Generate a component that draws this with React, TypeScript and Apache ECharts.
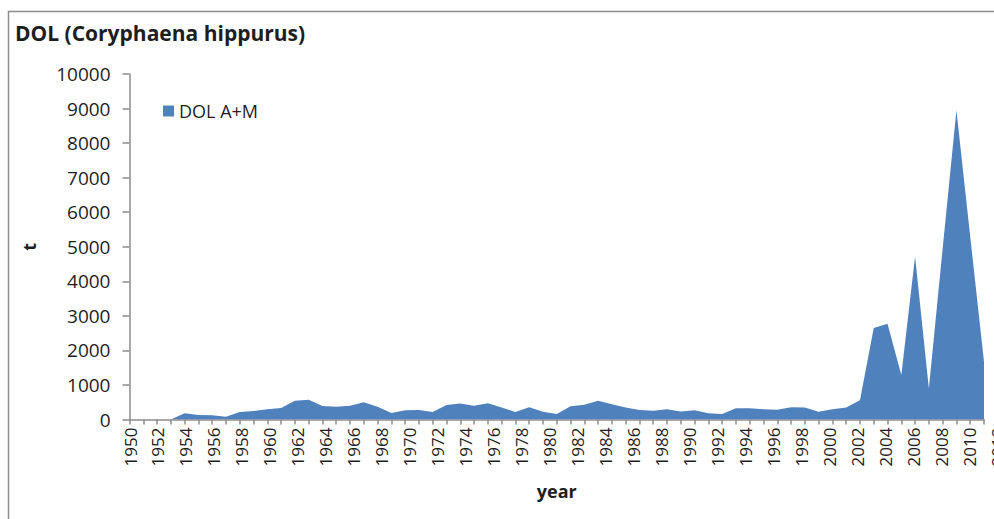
import React, { useEffect, useRef } from "react";
import * as echarts from "echarts";

const chartTitle = "DOL (Coryphaena hippurus)";
const seriesName = "DOL A+M";
const xAxisName = "year";
const yAxisName = "t";

const years = [
  "1950", "1951", "1952", "1953", "1954", "1955", "1956", "1957", "1958", "1959",
  "1960", "1961", "1962", "1963", "1964", "1965", "1966", "1967", "1968", "1969",
  "1970", "1971", "1972", "1973", "1974", "1975", "1976", "1977", "1978", "1979",
  "1980", "1981", "1982", "1983", "1984", "1985", "1986", "1987", "1988", "1989",
  "1990", "1991", "1992", "1993", "1994", "1995", "1996", "1997", "1998", "1999",
  "2000", "2001", "2002", "2003", "2004", "2005", "2006", "2007", "2008", "2009",
  "2010", "2011", "2012",
];

const catchTonnes = [
  0, 0, 0, 0, 180, 130, 120, 80, 220, 245,
  295, 330, 545, 575, 390, 370, 400, 500, 370, 190,
  265, 275, 220, 420, 460, 400, 470, 345, 220, 355,
  225, 160, 380, 430, 545, 440, 345, 275, 255, 295,
  235, 270, 180, 160, 325, 325, 295, 285, 355, 345,
  225, 295, 345, 555, 2645, 2770, 1290, 4720, 900, 4950,
  8950, 5300, 1670,
];

const yMin = 0;
const yMax = 10000;
const yInterval = 1000;

const FONT = '"Open Sans", "Noto Sans", sans-serif';
const BLUE = "#4F81BD";
const AXIS_GRAY = "#8c8c8c";
const TEXT = "#1e1e1e";

export default function App() {
  const ref = useRef<HTMLDivElement>(null);

  useEffect(() => {
    if (!ref.current) return;
    const chart = echarts.init(ref.current, null, { renderer: "svg" });
    chart.setOption({
      animation: false,
      backgroundColor: "#ffffff",
      textStyle: { fontFamily: FONT },
      graphic: [
        {
          type: "line",
          silent: true,
          shape: { x1: 8, y1: 11.5, x2: 994, y2: 11.5 },
          style: { stroke: AXIS_GRAY, lineWidth: 1.5 },
        },
        {
          type: "line",
          silent: true,
          shape: { x1: 8.5, y1: 11, x2: 8.5, y2: 519 },
          style: { stroke: AXIS_GRAY, lineWidth: 1.5 },
        },
        {
          type: "text",
          silent: true,
          x: 15,
          y: 33,
          style: {
            text: chartTitle,
            font: `bold 21px ${FONT}`,
            fill: TEXT,
            verticalAlign: "middle",
            align: "left",
          },
        },
      ],
      legend: {
        data: [seriesName],
        left: 163,
        top: 102,
        padding: 0,
        icon: "rect",
        itemWidth: 11,
        itemHeight: 11,
        textStyle: { fontSize: 18, color: TEXT, fontFamily: FONT },
      },
      grid: [
        { left: 129.5, top: 74, width: 854.5, height: 345.5, outerBoundsMode: "none" },
        { left: 130, top: 74, width: 867, height: 345.5, outerBoundsMode: "none" },
      ],
      xAxis: [
        {
          type: "category",
          gridIndex: 0,
          data: years,
          boundaryGap: false,
          axisLine: { show: true, lineStyle: { color: AXIS_GRAY, width: 1.5 } },
          axisTick: { show: true, interval: 0, length: 5, lineStyle: { color: AXIS_GRAY, width: 1.5 } },
          axisLabel: { show: false },
          splitLine: { show: false },
          name: xAxisName,
          nameLocation: "middle",
          nameGap: 62,
          nameTextStyle: { fontSize: 18, fontWeight: "bold", color: TEXT, fontFamily: FONT },
        },
        {
          type: "category",
          gridIndex: 1,
          data: years,
          boundaryGap: false,
          axisLine: { show: false },
          axisTick: { show: false },
          splitLine: { show: false },
          axisLabel: { interval: 1, rotate: 90, fontSize: 17, color: TEXT, margin: 8, fontFamily: FONT },
        },
      ],
      yAxis: [
        {
          type: "value",
          gridIndex: 0,
          min: yMin,
          max: yMax,
          interval: yInterval,
          axisLine: { show: true, lineStyle: { color: AXIS_GRAY, width: 1.5 } },
          axisTick: { show: true, length: 7, lineStyle: { color: AXIS_GRAY, width: 1.5 } },
          splitLine: { show: false },
          axisLabel: {
            fontSize: 19,
            color: TEXT,
            margin: 19,
            fontFamily: FONT,
            formatter: (v: number) => String(v),
          },
          name: yAxisName,
          nameLocation: "middle",
          nameRotate: 90,
          nameGap: 92,
          nameTextStyle: { fontSize: 18, fontWeight: "bold", color: TEXT, fontFamily: FONT },
        },
        { type: "value", gridIndex: 1, show: false, min: 0, max: 1 },
      ],
      series: [
        {
          name: seriesName,
          type: "line",
          xAxisIndex: 0,
          yAxisIndex: 0,
          data: catchTonnes,
          symbol: "none",
          showSymbol: false,
          lineStyle: { width: 0, color: BLUE },
          itemStyle: { color: BLUE },
          areaStyle: { color: BLUE, opacity: 1 },
        },
      ],
    });
    return () => chart.dispose();
  }, []);

  return (
    <div
      style={{
        position: "fixed",
        left: 0,
        top: 0,
        width: 994,
        height: 519,
        overflow: "hidden",
        background: "#fff",
      }}
    >
      <div ref={ref} style={{ width: 994, height: 519 }} />
    </div>
  );
}
